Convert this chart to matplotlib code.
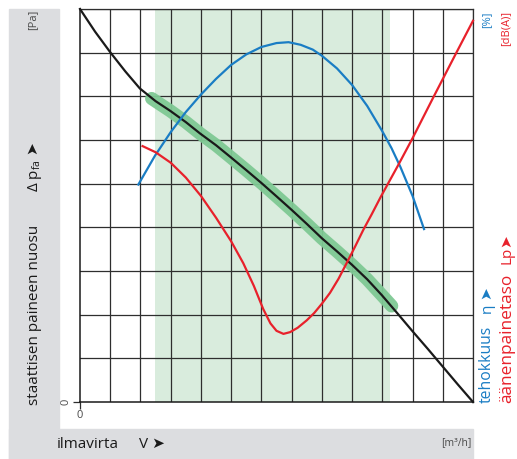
"""Fan curve sheet: static pressure rise, efficiency and sound pressure level vs airflow."""
import matplotlib
matplotlib.use("Agg")
import matplotlib.pyplot as plt
from matplotlib.patches import Rectangle
import numpy as np

plt.rcParams["font.family"] = ["Open Sans", "DejaVu Sans"]
plt.rcParams["mathtext.fontset"] = "custom"
plt.rcParams["mathtext.rm"] = "Open Sans"

W, H = 517, 459

# grid is unscaled: 13 airflow divisions, 9 pressure divisions
X_DIV = 13
Y_DIV = 9

# static pressure rise (black)
PRES_X = [0, 0.5, 1.0, 1.5, 1.98, 2.5, 2.98, 3.5, 3.97, 4.5, 4.96, 5.5, 6.01, 6.5, 7.0, 7.5,
          8.0, 8.5, 9.0, 9.5, 9.98, 10.5, 11.0, 11.5, 12.0, 12.5, 13.0]
PRES_Y = [9.0, 8.48, 8.01, 7.57, 7.18, 6.89, 6.67, 6.41, 6.15, 5.88, 5.62, 5.31, 5.01, 4.71,
          4.40, 4.08, 3.75, 3.45, 3.14, 2.81, 2.45, 2.03, 1.62, 1.22, 0.81, 0.40, 0.0]

# recommended operating section of the pressure curve (thick green)
OPER_X = [2.37, 2.5, 2.98, 3.5, 3.97, 4.5, 4.96, 5.5, 6.01, 6.5, 7.0, 7.5, 8.0, 8.5, 9.0,
          9.5, 9.98, 10.31]
OPER_Y = [6.95, 6.89, 6.67, 6.41, 6.15, 5.88, 5.62, 5.31, 5.01, 4.71, 4.40, 4.08, 3.75, 3.45,
          3.14, 2.81, 2.45, 2.20]

# shaded airflow range
RANGE_LO, RANGE_HI = 2.48, 10.25

# efficiency (blue)
EFF_X = [1.93, 2.48, 3.0, 3.5, 4.0, 4.5, 5.0, 5.5, 6.0, 6.5, 6.9, 7.3, 7.7, 8.0, 8.5, 9.0,
         9.5, 10.0, 10.3, 10.6, 11.0, 11.38]
EFF_Y = [4.98, 5.64, 6.18, 6.64, 7.04, 7.40, 7.72, 7.96, 8.13, 8.22, 8.24, 8.18, 8.07, 7.93,
         7.64, 7.26, 6.78, 6.20, 5.82, 5.38, 4.72, 3.96]

# sound pressure level (red)
SPL_X = [2.07, 2.5, 3.0, 3.5, 4.0, 4.5, 5.0, 5.4, 5.75, 6.06, 6.3, 6.5, 6.73, 6.95, 7.2, 7.5,
         7.75, 8.0, 8.27, 8.55, 8.82, 9.1, 9.37, 9.65, 9.95, 10.53, 11.0, 11.69, 12.45, 13.0]
SPL_Y = [5.86, 5.72, 5.48, 5.14, 4.72, 4.22, 3.68, 3.18, 2.66, 2.13, 1.80, 1.63, 1.56, 1.60,
         1.70, 1.87, 2.04, 2.25, 2.50, 2.82, 3.18, 3.56, 3.94, 4.30, 4.70, 5.43, 6.04, 6.98,
         8.00, 8.73]

BLACK = "#1a1a1a"
BLUE = "#1a7dc4"
RED = "#e8212b"
GREEN_BAND = "#d9ecdd"
GREEN_LINE = "#7fc994"
PANEL = "#dcdde0"
GREY_TXT = "#4a4a4a"


def fx(x):
    return x / W


def fy(y):
    return 1 - y / H


fig = plt.figure(figsize=(W / 100, H / 100), dpi=100)

# L-shaped grey label panel
fig.patches.append(Rectangle((fx(9), fy(459)), fx(59) - fx(9), fy(9) - fy(459),
                             transform=fig.transFigure, color=PANEL, zorder=0))
fig.patches.append(Rectangle((fx(9), fy(459)), fx(473) - fx(9), fy(429) - fy(459),
                             transform=fig.transFigure, color=PANEL, zorder=0))

ax = fig.add_axes([fx(80), fy(402), fx(473) - fx(80), fy(9) - fy(402)])
ax.set_xlim(0, X_DIV)
ax.set_ylim(0, Y_DIV)
ax.patch.set_alpha(0)

ax.axvspan(RANGE_LO, RANGE_HI, color=GREEN_BAND, lw=0, zorder=0.2)

ax.set_xticks(np.arange(X_DIV + 1), minor=True)
ax.set_yticks(np.arange(Y_DIV + 1), minor=True)
ax.grid(which="minor", color="#2e2e2e", lw=0.9)
ax.set_axisbelow(True)
ax.tick_params(which="minor", length=0)
ax.set_xticks([0])
ax.set_yticks([0])
ax.set_xticklabels(["0"], fontsize=8, color=GREY_TXT)
ax.set_yticklabels(["0"], fontsize=8, color=GREY_TXT, rotation=90, va="center")
ax.tick_params(which="major", length=5, width=0.9, color="#2e2e2e", pad=1)
for side in ("top", "right"):
    ax.spines[side].set_color("#2e2e2e")
    ax.spines[side].set_linewidth(0.9)
for side in ("left", "bottom"):
    ax.spines[side].set_color(BLACK)
    ax.spines[side].set_linewidth(1.1)

ax.plot(OPER_X, OPER_Y, color=GREEN_LINE, lw=9.5, solid_capstyle="round", alpha=0.95,
        zorder=2)
ax.plot(PRES_X, PRES_Y, color=BLACK, lw=1.6, zorder=3, clip_on=False)
ax.plot(EFF_X, EFF_Y, color=BLUE, lw=1.6, zorder=3)
ax.plot(SPL_X, SPL_Y, color=RED, lw=1.6, zorder=3, clip_on=False)

# left axis captions
fig.text(fx(33), fy(20), "[Pa]", rotation=90, ha="center", va="center", fontsize=8,
         color=GREY_TXT)
fig.text(fx(35), fy(192), "Δ $\\mathrm{p}_{\\mathrm{fa}}$", rotation=90, ha="center",
         va="bottom", fontsize=11, color=BLACK)
fig.text(fx(33), fy(154), "➤", rotation=90, ha="center", va="bottom", fontsize=11,
         color=BLACK)
fig.text(fx(35), fy(405), "staattisen paineen nuosu", rotation=90, ha="center", va="bottom",
         fontsize=11, color=BLACK)

# bottom axis captions
fig.text(fx(57), fy(444), "ilmavirta", ha="left", va="center", fontsize=11, color=BLACK)
fig.text(fx(139), fy(444), "V ➤", ha="left", va="center", fontsize=11, color=BLACK)
fig.text(fx(471), fy(443), "[m³/h]", ha="right", va="center", fontsize=7.5, color=GREY_TXT)

# right axis captions
fig.text(fx(487), fy(11), "[%]", rotation=90, ha="center", va="top", fontsize=8, color=BLUE)
fig.text(fx(506), fy(11), "[dB(A)]", rotation=90, ha="center", va="top", fontsize=8,
         color=RED)
fig.text(fx(487), fy(403), "tehokkuus", rotation=90, ha="center", va="bottom", fontsize=11.3,
         color=BLUE)
fig.text(fx(487), fy(313), "η", rotation=90, ha="center", va="bottom", fontsize=11,
         color=BLUE)
fig.text(fx(487), fy(299), "➤", rotation=90, ha="center", va="bottom", fontsize=11,
         color=BLUE)
fig.text(fx(507), fy(403), "äänenpainetaso", rotation=90, ha="center", va="bottom",
         fontsize=12.4, color=RED)
fig.text(fx(507), fy(264), "Lp", rotation=90, ha="center", va="bottom", fontsize=11,
         color=RED)
fig.text(fx(507), fy(247), "➤", rotation=90, ha="center", va="bottom", fontsize=11,
         color=RED)

fig.savefig("out.png", dpi=100)
